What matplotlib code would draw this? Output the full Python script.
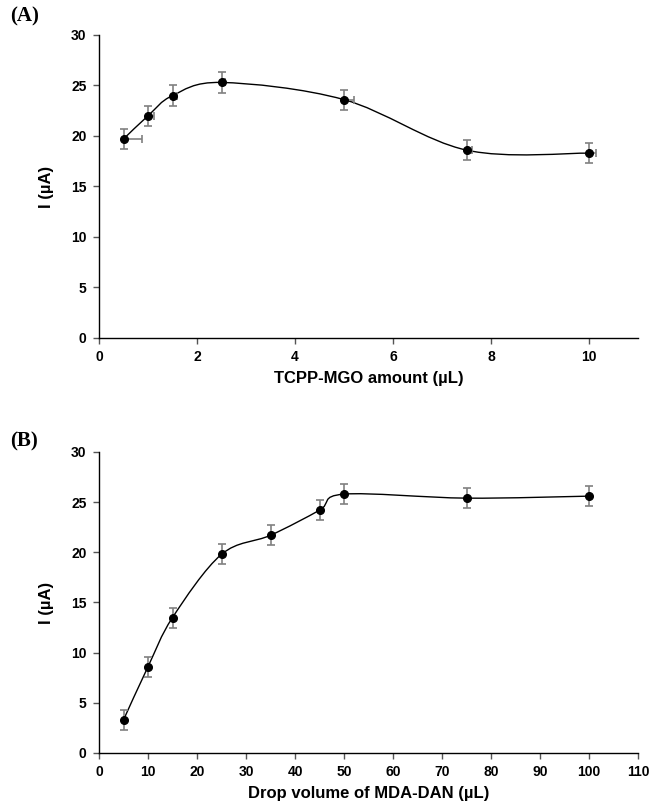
import numpy as np
import matplotlib
matplotlib.use("Agg")
import matplotlib.pyplot as plt
from matplotlib.path import Path
from matplotlib.patches import PathPatch

# panel A data
amountA = [0.5, 1.0, 1.5, 2.5, 5.0, 7.5, 10.0]
currentA = [19.7, 22.0, 24.0, 25.3, 23.6, 18.6, 18.3]
yerrA = [1.0, 1.0, 1.0, 1.0, 1.0, 1.0, 1.0]
xerrA = [0.37, 0.12, 0.10, 0.08, 0.20, 0.12, 0.15]

# panel B data
volumeB = [5, 10, 15, 25, 35, 45, 50, 75, 100]
currentB = [3.3, 8.6, 13.5, 19.8, 21.7, 24.2, 25.8, 25.4, 25.6]
yerrB = [1.0, 1.0, 1.0, 1.0, 1.0, 1.0, 1.0, 1.0, 1.0]

plt.rcParams['font.family'] = ['Liberation Sans', 'DejaVu Sans']
plt.rcParams['font.weight'] = 'bold'


def smoothPath(xs, ys):
    # excel-like smoothed line: bezier segments with catmull-rom control points
    pts = np.column_stack([xs, ys]).astype(float)
    n = len(pts)
    verts = [pts[0]]
    codes = [Path.MOVETO]
    for i in range(n - 1):
        p0 = pts[i - 1] if i > 0 else pts[i]
        p1 = pts[i]
        p2 = pts[i + 1]
        p3 = pts[i + 2] if i + 2 < n else pts[i + 1]
        c1 = p1 + (p2 - p0) / 6.0
        c2 = p2 - (p3 - p1) / 6.0
        verts += [c1, c2, p2]
        codes += [Path.CURVE4] * 3
    return Path(verts, codes)


def styleAxes(ax, xmax, xticks, xlabel):
    ax.spines['top'].set_visible(False)
    ax.spines['right'].set_visible(False)
    ax.spines['left'].set_linewidth(1.0)
    ax.spines['bottom'].set_linewidth(1.0)
    ax.set_ylim(0, 30)
    ax.set_yticks(range(0, 31, 5))
    ax.set_xlim(0, xmax)
    ax.set_xticks(xticks)
    ax.tick_params(direction='out', length=4, width=1, color='#555555',
                   labelsize=10, pad=5)
    for lab in ax.get_xticklabels() + ax.get_yticklabels():
        lab.set_fontweight('bold')
    ax.set_ylabel('I (µA)', fontsize=12, fontweight='bold', labelpad=12)
    ax.set_xlabel(xlabel, fontsize=12, fontweight='bold', labelpad=5)


fig = plt.figure(figsize=(6.54, 8.08), dpi=100)
axA = fig.add_axes([0.1514, 0.5817, 0.8242, 0.375])
axB = fig.add_axes([0.1514, 0.0681, 0.8242, 0.3725])

# panel A
axA.add_patch(PathPatch(smoothPath(amountA, currentA), fill=False, color='black', lw=1.0, zorder=2))
axA.errorbar(amountA, currentA, yerr=yerrA, xerr=[[0] * len(xerrA), xerrA], fmt='none',
             ecolor='#808080', elinewidth=1.2, capsize=2.7, capthick=1.2, zorder=3)
axA.plot(amountA, currentA, 'o', color='black', markersize=5.5, zorder=4)
styleAxes(axA, 11, range(0, 11, 2), 'TCPP-MGO amount (µL)')

# panel B
axB.add_patch(PathPatch(smoothPath(volumeB, currentB), fill=False, color='black', lw=1.0, zorder=2))
axB.errorbar(volumeB, currentB, yerr=yerrB, fmt='none',
             ecolor='#808080', elinewidth=1.2, capsize=2.7, capthick=1.2, zorder=3)
axB.plot(volumeB, currentB, 'o', color='black', markersize=5.5, zorder=4)
styleAxes(axB, 110, range(0, 111, 10), 'Drop volume of MDA-DAN (µL)')

fig.text(0.016, 0.979, '(A)', fontsize=15, fontweight='bold', family='Liberation Serif', va='center')
fig.text(0.016, 0.453, '(B)', fontsize=15, fontweight='bold', family='Liberation Serif', va='center')

fig.savefig('out.png', dpi=100)
